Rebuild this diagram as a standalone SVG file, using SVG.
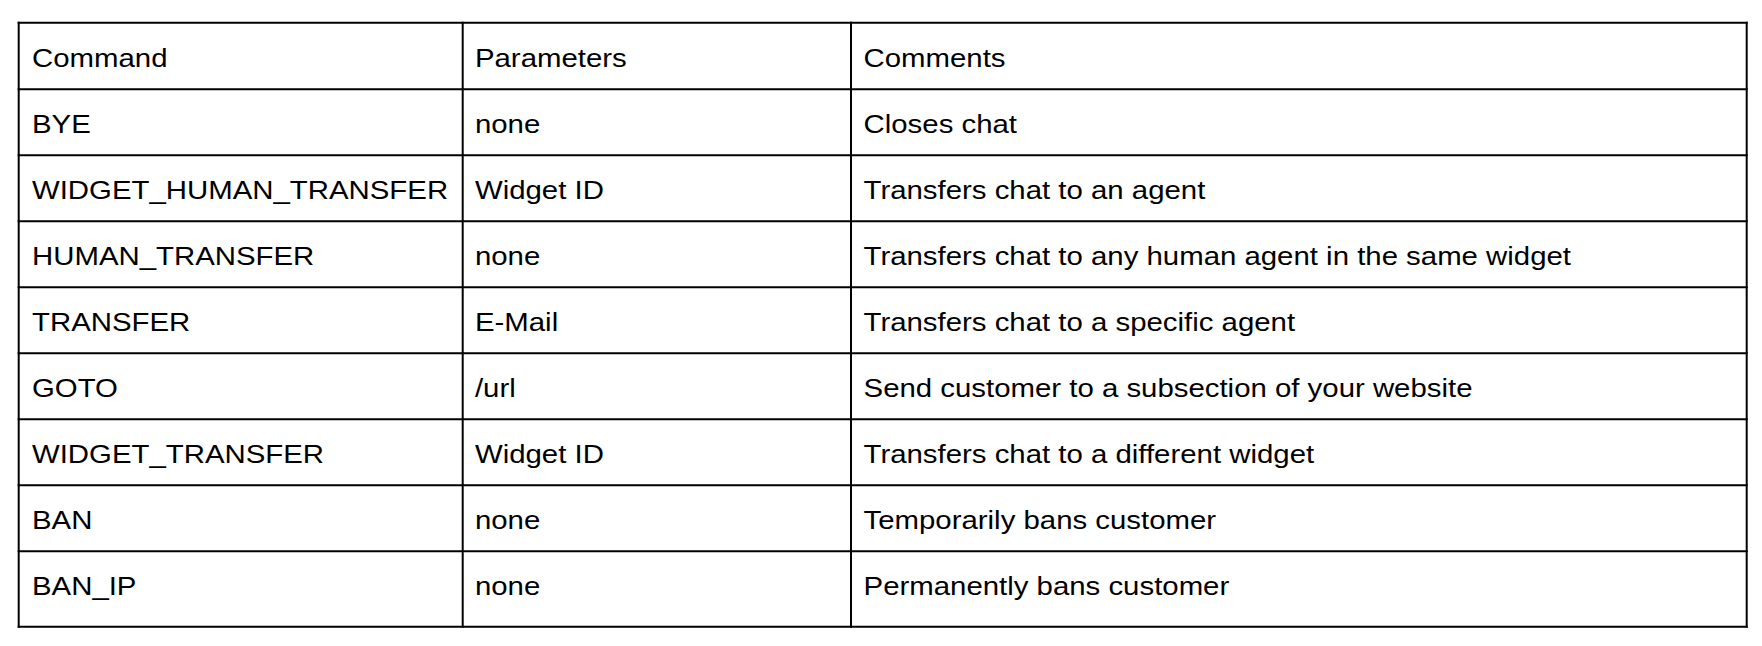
<svg xmlns="http://www.w3.org/2000/svg" width="1762" height="646" viewBox="0 0 1762 646">
<style>
.grid line{stroke:#000;stroke-width:2;stroke-linecap:square}
.t{font-family:"Liberation Sans",Arial,sans-serif;font-size:26.3px;fill:#000}
</style>
<rect width="1762" height="646" fill="#fff"/>
<g id="grid" class="grid">
<line x1="18.7" y1="22.7" x2="1746.7" y2="22.7"/>
<line x1="18.7" y1="89.3" x2="1746.7" y2="89.3"/>
<line x1="18.7" y1="155.3" x2="1746.7" y2="155.3"/>
<line x1="18.7" y1="221.3" x2="1746.7" y2="221.3"/>
<line x1="18.7" y1="287.3" x2="1746.7" y2="287.3"/>
<line x1="18.7" y1="353.3" x2="1746.7" y2="353.3"/>
<line x1="18.7" y1="419.3" x2="1746.7" y2="419.3"/>
<line x1="18.7" y1="485.3" x2="1746.7" y2="485.3"/>
<line x1="18.7" y1="551.3" x2="1746.7" y2="551.3"/>
<line x1="18.7" y1="626.7" x2="1746.7" y2="626.7"/>
<line x1="18.7" y1="22.7" x2="18.7" y2="626.7"/>
<line x1="462.7" y1="22.7" x2="462.7" y2="626.7"/>
<line x1="851" y1="22.7" x2="851" y2="626.7"/>
<line x1="1746.7" y1="22.7" x2="1746.7" y2="626.7"/>
</g>
<g transform="scale(1.117 1)" class="t">
<g id="row-header"><text x="28.65" y="66.7">Command</text><text x="425.2" y="66.7">Parameters</text><text x="773.1" y="66.7">Comments</text></g>
<g id="row-bye"><text x="28.65" y="133">BYE</text><text x="425.2" y="133">none</text><text x="773.1" y="133">Closes chat</text></g>
<g id="row-widget-human-transfer"><text x="28.65" y="199.3">WIDGET_HUMAN_TRANSFER</text><text x="425.2" y="199.3">Widget ID</text><text x="773.1" y="199.3">Transfers chat to an agent</text></g>
<g id="row-human-transfer"><text x="28.65" y="265.3">HUMAN_TRANSFER</text><text x="425.2" y="265.3">none</text><text x="773.1" y="265.3">Transfers chat to any human agent in the same widget</text></g>
<g id="row-transfer"><text x="28.65" y="331.3">TRANSFER</text><text x="425.2" y="331.3">E-Mail</text><text x="773.1" y="331.3">Transfers chat to a specific agent</text></g>
<g id="row-goto"><text x="28.65" y="397.3">GOTO</text><text x="425.2" y="397.3">/url</text><text x="773.1" y="397.3">Send customer to a subsection of your website</text></g>
<g id="row-widget-transfer"><text x="28.65" y="463.3">WIDGET_TRANSFER</text><text x="425.2" y="463.3">Widget ID</text><text x="773.1" y="463.3">Transfers chat to a different widget</text></g>
<g id="row-ban"><text x="28.65" y="529.3">BAN</text><text x="425.2" y="529.3">none</text><text x="773.1" y="529.3">Temporarily bans customer</text></g>
<g id="row-ban-ip"><text x="28.65" y="595.3">BAN_IP</text><text x="425.2" y="595.3">none</text><text x="773.1" y="595.3">Permanently bans customer</text></g>
</g>
</svg>
